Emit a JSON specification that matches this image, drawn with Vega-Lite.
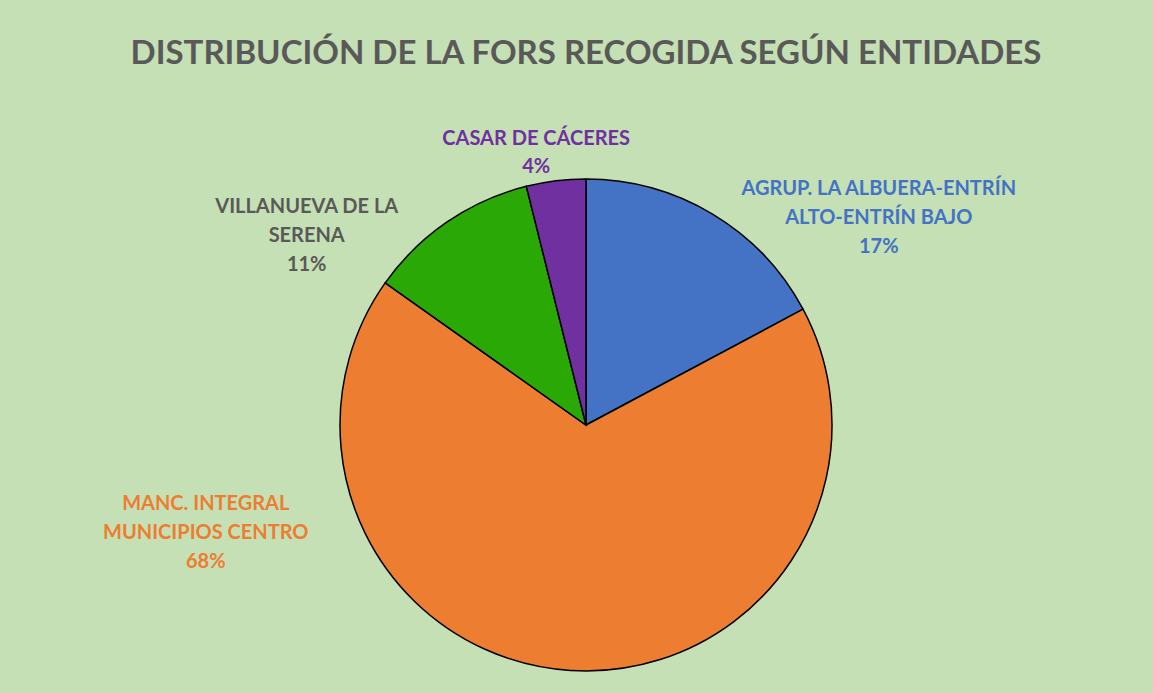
{
  "$schema": "https://vega.github.io/schema/vega-lite/v6.json",
  "width": 1134,
  "height": 530,
  "autosize": {"type": "none"},
  "padding": {"left": 19, "top": 160, "right": 0, "bottom": 3},
  "background": "#C5E0B4",
  "title": {
    "text": "DISTRIBUCIÓN DE LA FORS RECOGIDA SEGÚN ENTIDADES",
    "font": "Lato",
    "fontSize": 33,
    "fontWeight": "bold",
    "color": "#595959",
    "anchor": "middle",
    "frame": "group",
    "offset": 58
  },
  "data": {
    "values": [
      {"orden": 1, "entidad": "AGRUP. LA ALBUERA-ENTRÍN ALTO-ENTRÍN BAJO", "porcentaje": 17.2, "etiqueta": "AGRUP. LA ALBUERA-ENTRÍN\nALTO-ENTRÍN BAJO\n17%"},
      {"orden": 2, "entidad": "MANC. INTEGRAL MUNICIPIOS CENTRO", "porcentaje": 67.6, "etiqueta": "MANC. INTEGRAL\nMUNICIPIOS CENTRO\n68%"},
      {"orden": 3, "entidad": "VILLANUEVA DE LA SERENA", "porcentaje": 11.3, "etiqueta": "VILLANUEVA DE LA\nSERENA\n11%"},
      {"orden": 4, "entidad": "CASAR DE CÁCERES", "porcentaje": 3.9, "etiqueta": "CASAR DE CÁCERES\n4%"}
    ]
  },
  "encoding": {
    "theta": {"field": "porcentaje", "type": "quantitative", "stack": true},
    "order": {"field": "orden", "type": "quantitative"}
  },
  "layer": [
    {
      "mark": {"type": "arc", "outerRadius": 246, "stroke": "#000000", "strokeWidth": 1.5},
      "encoding": {
        "color": {
          "field": "entidad",
          "type": "nominal",
          "scale": {
            "domain": ["AGRUP. LA ALBUERA-ENTRÍN ALTO-ENTRÍN BAJO", "MANC. INTEGRAL MUNICIPIOS CENTRO", "VILLANUEVA DE LA SERENA", "CASAR DE CÁCERES"],
            "range": ["#4472C4", "#ED7D31", "#29A806", "#7030A0"]
          },
          "legend": null
        }
      }
    },
    {
      "mark": {"type": "text", "radius": 328, "dx": 124, "dy": 45, "font": "Lato", "fontSize": 20, "fontWeight": "bold", "fill": "#4472C4", "lineBreak": "\n", "lineHeight": 29, "align": "center", "baseline": "middle"},
      "encoding": {"text": {"condition": {"test": "datum.orden === 1", "field": "etiqueta", "type": "nominal"}, "value": ""}}
    },
    {
      "mark": {"type": "text", "radius": 131, "dx": -372, "dy": -52, "font": "Lato", "fontSize": 20, "fontWeight": "bold", "fill": "#ED7D31", "lineBreak": "\n", "lineHeight": 29, "align": "center", "baseline": "middle"},
      "encoding": {"text": {"condition": {"test": "datum.orden === 2", "field": "etiqueta", "type": "nominal"}, "value": ""}}
    },
    {
      "mark": {"type": "text", "radius": 314, "dx": -102, "dy": 41, "font": "Lato", "fontSize": 20, "fontWeight": "bold", "fill": "#595959", "lineBreak": "\n", "lineHeight": 29, "align": "center", "baseline": "middle"},
      "encoding": {"text": {"condition": {"test": "datum.orden === 3", "field": "etiqueta", "type": "nominal"}, "value": ""}}
    },
    {
      "mark": {"type": "text", "radius": 277, "dx": -16, "dy": -11, "font": "Lato", "fontSize": 20, "fontWeight": "bold", "fill": "#7030A0", "lineBreak": "\n", "lineHeight": 28, "align": "center", "baseline": "middle"},
      "encoding": {"text": {"condition": {"test": "datum.orden === 4", "field": "etiqueta", "type": "nominal"}, "value": ""}}
    }
  ],
  "config": {"view": {"stroke": null}}
}
